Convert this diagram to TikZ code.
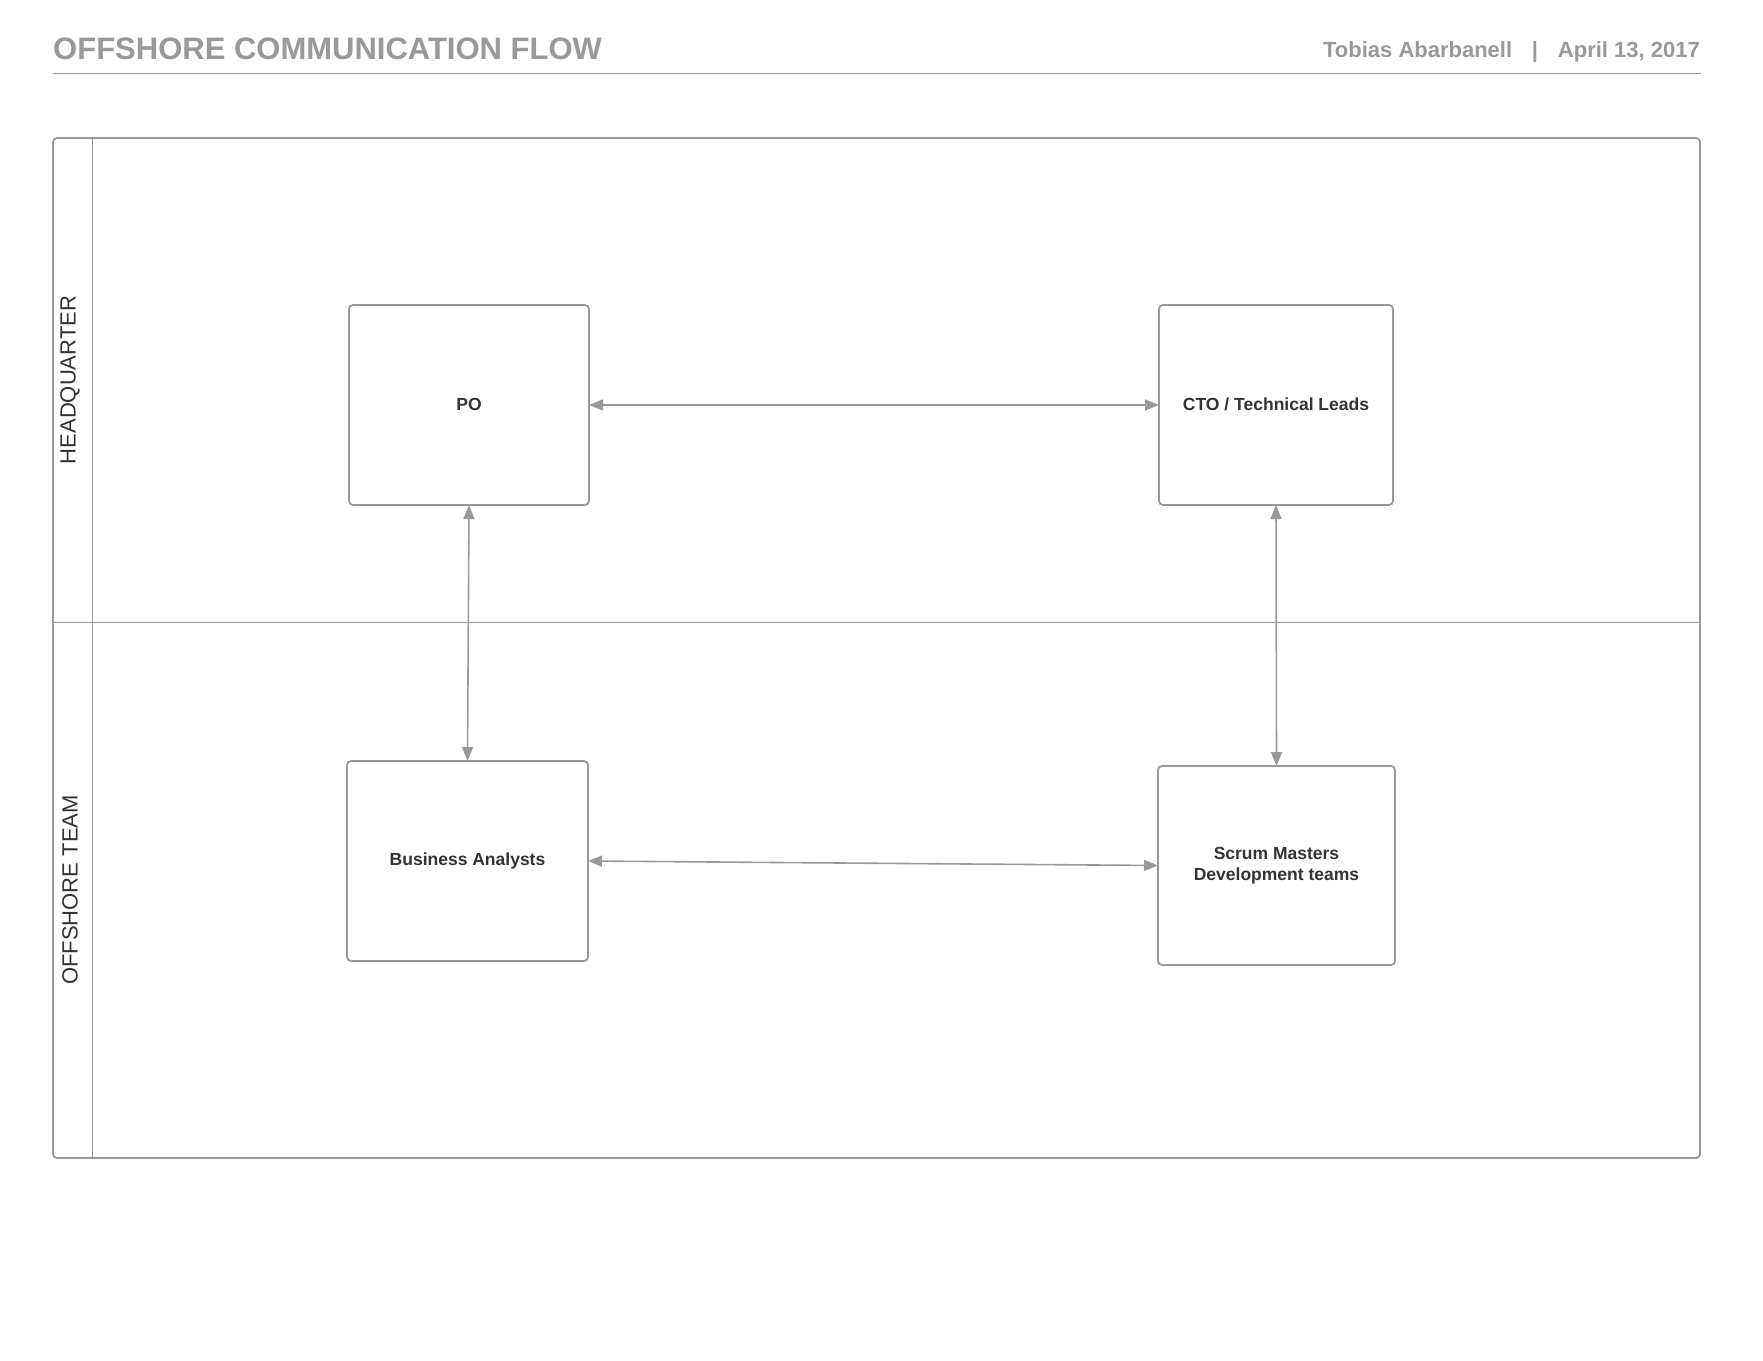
\documentclass[tikz,border=0pt]{standalone}
\usepackage{fontspec}
\setmainfont{Liberation Sans}
\usetikzlibrary{arrows.meta}
\definecolor{linegray}{HTML}{999999}
\definecolor{titlegray}{HTML}{999999}
\definecolor{textdark}{HTML}{333333}
\tikzset{
  box/.style={draw=linegray, line width=1.8pt, rounded corners=4pt, fill=white,
    inner sep=0pt, outer sep=0pt, font=\fontsize{17.5}{21.4}\selectfont\bfseries, text=textdark, align=center},
  conn/.style={draw=linegray, line width=1.6pt, {Triangle[length=14pt,width=11pt]}-{Triangle[length=14pt,width=11pt]}},
  lanelabel/.style={font=\fontsize{22}{26}\selectfont, text=textdark, rotate=90}
}
\begin{document}
\begin{tikzpicture}[x=1pt,y=-1pt]
\useasboundingbox[fill=white] (0,0) rectangle (1763,1360);
% header
\node[anchor=base west, inner sep=0pt, text=titlegray, font=\fontsize{31}{36}\selectfont\bfseries] (title) at (53,59) {OFFSHORE COMMUNICATION FLOW};
\node[anchor=base east, inner sep=0pt, text=titlegray, font=\fontsize{22}{26}\selectfont\bfseries] (meta) at (1700,57) {Tobias Abarbanell\hspace{0.9em}|\hspace{0.9em}April 13, 2017};
\draw[linegray, line width=1pt] (53,73) -- (1701,73);
% swimlanes
\draw[linegray, line width=1.8pt, rounded corners=4pt] (53,138) rectangle (1700,1158);
\draw[linegray, line width=1pt] (92,138) -- (92,1158);
\draw[linegray, line width=1pt] (53,622) -- (1700,622);
\node[lanelabel] (hq) at (70,380) {HEADQUARTER};
\node[lanelabel] (off) at (70,890) {OFFSHORE TEAM};
% boxes
\node[box, minimum width=240pt, minimum height=200pt] (PO) at (469,405) {\raisebox{2pt}{PO}};
\node[box, minimum width=234pt, minimum height=200pt] (CTO) at (1276,405) {\raisebox{2pt}{CTO / Technical Leads}};
\node[box, minimum width=241pt, minimum height=200pt] (BA) at (467.5,861) {\raisebox{2pt}{Business Analysts}};
\node[box, minimum width=237pt, minimum height=199pt] (SM) at (1276.5,865.5) {Scrum Masters\\Development teams};
% connectors
\draw[conn] (PO.east) -- (CTO.west);
\draw[conn] (PO.south) -- (BA.north);
\draw[conn] (CTO.south) -- (SM.north);
\draw[conn] (BA.east) -- (SM.west);
\end{tikzpicture}
\end{document}
